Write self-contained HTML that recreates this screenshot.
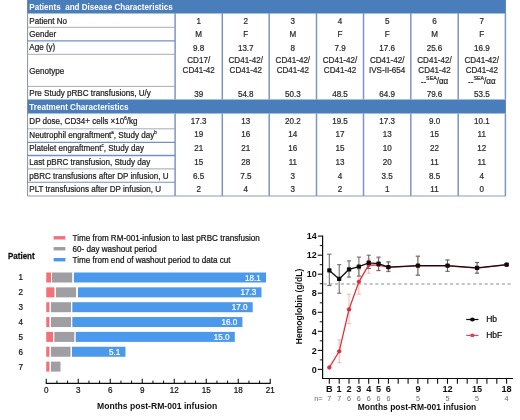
<!DOCTYPE html>
<html><head><meta charset="utf-8"><title>RM-001</title>
<style>
html,body{margin:0;padding:0;background:#fff;}
body{width:520px;height:420px;overflow:hidden;position:relative;font-family:"Liberation Sans",Arial,sans-serif;}
svg{position:absolute;left:0;top:0;display:block}
text{font-family:"Liberation Sans",Arial,sans-serif}
.b{font-weight:bold}
.m{text-anchor:middle}
.e{text-anchor:end}
</style></head><body>
<svg width="520" height="420" viewBox="0 0 520 420">
<defs><filter id="soft" filterUnits="userSpaceOnUse" x="-20" y="-20" width="560" height="460"><feGaussianBlur stdDeviation="0.35"/></filter></defs>
<g filter="url(#soft)">
<rect x="-20" y="-20" width="560" height="460" fill="#fff"/>

<rect x="27.1" y="-10" width="478.79999999999995" height="23.5" fill="#4a7ebb"/>
<rect x="27.1" y="99.5" width="478.79999999999995" height="14" fill="#4a7ebb"/>
<text transform="translate(29.30 9.60) scale(0.95 1)" font-size="8.5" fill="#fff" class="b">Patients&#160; and Disease Characteristics</text>
<text transform="translate(29.30 109.50) scale(0.95 1)" font-size="8.5" fill="#fff" class="b">Treatment Characteristics</text>
<line x1="27.6" y1="13" x2="27.6" y2="196" stroke="#8a8f99" stroke-width="1"/>
<line x1="175.1" y1="13" x2="175.1" y2="99.5" stroke="#7d95c0" stroke-width="1.5"/>
<line x1="175.1" y1="113.5" x2="175.1" y2="196" stroke="#7d95c0" stroke-width="1.5"/>
<line x1="222.3" y1="13" x2="222.3" y2="99.5" stroke="#7d95c0" stroke-width="1.5"/>
<line x1="222.3" y1="113.5" x2="222.3" y2="196" stroke="#7d95c0" stroke-width="1.5"/>
<line x1="269.2" y1="13" x2="269.2" y2="99.5" stroke="#7d95c0" stroke-width="1.5"/>
<line x1="269.2" y1="113.5" x2="269.2" y2="196" stroke="#7d95c0" stroke-width="1.5"/>
<line x1="316.5" y1="13" x2="316.5" y2="99.5" stroke="#7d95c0" stroke-width="1.5"/>
<line x1="316.5" y1="113.5" x2="316.5" y2="196" stroke="#7d95c0" stroke-width="1.5"/>
<line x1="363.5" y1="13" x2="363.5" y2="99.5" stroke="#7d95c0" stroke-width="1.5"/>
<line x1="363.5" y1="113.5" x2="363.5" y2="196" stroke="#7d95c0" stroke-width="1.5"/>
<line x1="410.8" y1="13" x2="410.8" y2="99.5" stroke="#7d95c0" stroke-width="1.5"/>
<line x1="410.8" y1="113.5" x2="410.8" y2="196" stroke="#7d95c0" stroke-width="1.5"/>
<line x1="458.2" y1="13" x2="458.2" y2="99.5" stroke="#7d95c0" stroke-width="1.5"/>
<line x1="458.2" y1="113.5" x2="458.2" y2="196" stroke="#7d95c0" stroke-width="1.5"/>
<line x1="505.4" y1="13" x2="505.4" y2="99.5" stroke="#7d95c0" stroke-width="1.5"/>
<line x1="505.4" y1="113.5" x2="505.4" y2="196" stroke="#7d95c0" stroke-width="1.5"/>
<line x1="27.6" y1="27.3" x2="175.1" y2="27.3" stroke="#9aa3b2" stroke-width="0.9"/>
<line x1="27.6" y1="40.9" x2="175.1" y2="40.9" stroke="#7092c2" stroke-width="1.4"/>
<line x1="27.6" y1="54.3" x2="175.1" y2="54.3" stroke="#9aa3b2" stroke-width="0.9"/>
<line x1="27.6" y1="86.4" x2="175.1" y2="86.4" stroke="#9aa3b2" stroke-width="0.9"/>
<line x1="27.6" y1="128.8" x2="175.1" y2="128.8" stroke="#9aa3b2" stroke-width="0.9"/>
<line x1="27.6" y1="142.3" x2="175.1" y2="142.3" stroke="#7092c2" stroke-width="1.2"/>
<line x1="27.6" y1="155.5" x2="175.1" y2="155.5" stroke="#7092c2" stroke-width="1.3"/>
<line x1="27.6" y1="168.9" x2="175.1" y2="168.9" stroke="#9aa3b2" stroke-width="1"/>
<line x1="27.6" y1="182.2" x2="175.1" y2="182.2" stroke="#7092c2" stroke-width="1.1"/>
<line x1="27.6" y1="196" x2="505.9" y2="196" stroke="#8f9db3" stroke-width="1.1"/>
<text transform="translate(29.30 23.80) scale(0.95 1)" font-size="8.5" fill="#1c1c1c" stroke="#1c1c1c" stroke-width="0.22">Patient No</text>
<text transform="translate(198.70 23.80) scale(0.95 1)" font-size="8.5" fill="#2a2a2a" class="m" stroke="#2a2a2a" stroke-width="0.22">1</text>
<text transform="translate(245.75 23.80) scale(0.95 1)" font-size="8.5" fill="#2a2a2a" class="m" stroke="#2a2a2a" stroke-width="0.22">2</text>
<text transform="translate(292.85 23.80) scale(0.95 1)" font-size="8.5" fill="#2a2a2a" class="m" stroke="#2a2a2a" stroke-width="0.22">3</text>
<text transform="translate(340.00 23.80) scale(0.95 1)" font-size="8.5" fill="#2a2a2a" class="m" stroke="#2a2a2a" stroke-width="0.22">4</text>
<text transform="translate(387.15 23.80) scale(0.95 1)" font-size="8.5" fill="#2a2a2a" class="m" stroke="#2a2a2a" stroke-width="0.22">5</text>
<text transform="translate(434.50 23.80) scale(0.95 1)" font-size="8.5" fill="#2a2a2a" class="m" stroke="#2a2a2a" stroke-width="0.22">6</text>
<text transform="translate(481.80 23.80) scale(0.95 1)" font-size="8.5" fill="#2a2a2a" class="m" stroke="#2a2a2a" stroke-width="0.22">7</text>
<text transform="translate(29.30 37.00) scale(0.95 1)" font-size="8.5" fill="#1c1c1c" stroke="#1c1c1c" stroke-width="0.22">Gender</text>
<text transform="translate(198.70 37.00) scale(0.95 1)" font-size="8.5" fill="#2a2a2a" class="m" stroke="#2a2a2a" stroke-width="0.22">M</text>
<text transform="translate(245.75 37.00) scale(0.95 1)" font-size="8.5" fill="#2a2a2a" class="m" stroke="#2a2a2a" stroke-width="0.22">F</text>
<text transform="translate(292.85 37.00) scale(0.95 1)" font-size="8.5" fill="#2a2a2a" class="m" stroke="#2a2a2a" stroke-width="0.22">M</text>
<text transform="translate(340.00 37.00) scale(0.95 1)" font-size="8.5" fill="#2a2a2a" class="m" stroke="#2a2a2a" stroke-width="0.22">F</text>
<text transform="translate(387.15 37.00) scale(0.95 1)" font-size="8.5" fill="#2a2a2a" class="m" stroke="#2a2a2a" stroke-width="0.22">F</text>
<text transform="translate(434.50 37.00) scale(0.95 1)" font-size="8.5" fill="#2a2a2a" class="m" stroke="#2a2a2a" stroke-width="0.22">M</text>
<text transform="translate(481.80 37.00) scale(0.95 1)" font-size="8.5" fill="#2a2a2a" class="m" stroke="#2a2a2a" stroke-width="0.22">F</text>
<text transform="translate(29.30 50.40) scale(0.95 1)" font-size="8.5" fill="#1c1c1c" stroke="#1c1c1c" stroke-width="0.22">Age (y)</text>
<text transform="translate(198.70 50.50) scale(0.95 1)" font-size="8.5" fill="#2a2a2a" class="m" stroke="#2a2a2a" stroke-width="0.22">9.8</text>
<text transform="translate(245.75 50.50) scale(0.95 1)" font-size="8.5" fill="#2a2a2a" class="m" stroke="#2a2a2a" stroke-width="0.22">13.7</text>
<text transform="translate(292.85 50.50) scale(0.95 1)" font-size="8.5" fill="#2a2a2a" class="m" stroke="#2a2a2a" stroke-width="0.22">8</text>
<text transform="translate(340.00 50.50) scale(0.95 1)" font-size="8.5" fill="#2a2a2a" class="m" stroke="#2a2a2a" stroke-width="0.22">7.9</text>
<text transform="translate(387.15 50.50) scale(0.95 1)" font-size="8.5" fill="#2a2a2a" class="m" stroke="#2a2a2a" stroke-width="0.22">17.6</text>
<text transform="translate(434.50 50.50) scale(0.95 1)" font-size="8.5" fill="#2a2a2a" class="m" stroke="#2a2a2a" stroke-width="0.22">25.6</text>
<text transform="translate(481.80 50.50) scale(0.95 1)" font-size="8.5" fill="#2a2a2a" class="m" stroke="#2a2a2a" stroke-width="0.22">16.9</text>
<text transform="translate(29.30 96.40) scale(0.95 1)" font-size="8.5" fill="#1c1c1c" stroke="#1c1c1c" stroke-width="0.22">Pre Study pRBC transfusions, U/y</text>
<text transform="translate(198.70 96.50) scale(0.95 1)" font-size="8.5" fill="#2a2a2a" class="m" stroke="#2a2a2a" stroke-width="0.22">39</text>
<text transform="translate(245.75 96.50) scale(0.95 1)" font-size="8.5" fill="#2a2a2a" class="m" stroke="#2a2a2a" stroke-width="0.22">54.8</text>
<text transform="translate(292.85 96.50) scale(0.95 1)" font-size="8.5" fill="#2a2a2a" class="m" stroke="#2a2a2a" stroke-width="0.22">50.3</text>
<text transform="translate(340.00 96.50) scale(0.95 1)" font-size="8.5" fill="#2a2a2a" class="m" stroke="#2a2a2a" stroke-width="0.22">48.5</text>
<text transform="translate(387.15 96.50) scale(0.95 1)" font-size="8.5" fill="#2a2a2a" class="m" stroke="#2a2a2a" stroke-width="0.22">64.9</text>
<text transform="translate(434.50 96.50) scale(0.95 1)" font-size="8.5" fill="#2a2a2a" class="m" stroke="#2a2a2a" stroke-width="0.22">79.6</text>
<text transform="translate(481.80 96.50) scale(0.95 1)" font-size="8.5" fill="#2a2a2a" class="m" stroke="#2a2a2a" stroke-width="0.22">53.5</text>
<text transform="translate(29.30 123.80) scale(0.95 1)" font-size="8.5" fill="#1c1c1c" stroke="#1c1c1c" stroke-width="0.22">DP dose, CD34+ cells ×10<tspan dy="-4.2" font-size="4.7">6</tspan><tspan dy="4.2">/kg</tspan></text>
<text transform="translate(198.70 124.10) scale(0.95 1)" font-size="8.5" fill="#2a2a2a" class="m" stroke="#2a2a2a" stroke-width="0.22">17.3</text>
<text transform="translate(245.75 124.10) scale(0.95 1)" font-size="8.5" fill="#2a2a2a" class="m" stroke="#2a2a2a" stroke-width="0.22">13</text>
<text transform="translate(292.85 124.10) scale(0.95 1)" font-size="8.5" fill="#2a2a2a" class="m" stroke="#2a2a2a" stroke-width="0.22">20.2</text>
<text transform="translate(340.00 124.10) scale(0.95 1)" font-size="8.5" fill="#2a2a2a" class="m" stroke="#2a2a2a" stroke-width="0.22">19.5</text>
<text transform="translate(387.15 124.10) scale(0.95 1)" font-size="8.5" fill="#2a2a2a" class="m" stroke="#2a2a2a" stroke-width="0.22">17.3</text>
<text transform="translate(434.50 124.10) scale(0.95 1)" font-size="8.5" fill="#2a2a2a" class="m" stroke="#2a2a2a" stroke-width="0.22">9.0</text>
<text transform="translate(481.80 124.10) scale(0.95 1)" font-size="8.5" fill="#2a2a2a" class="m" stroke="#2a2a2a" stroke-width="0.22">10.1</text>
<text transform="translate(29.30 138.20) scale(0.95 1)" font-size="8.5" fill="#1c1c1c" stroke="#1c1c1c" stroke-width="0.22">Neutrophil engraftment<tspan dy="-4.2" font-size="4.7">a</tspan><tspan dy="4.2">, Study day</tspan><tspan dy="-4.2" font-size="4.7">b</tspan></text>
<text transform="translate(198.70 137.40) scale(0.95 1)" font-size="8.5" fill="#2a2a2a" class="m" stroke="#2a2a2a" stroke-width="0.22">19</text>
<text transform="translate(245.75 137.40) scale(0.95 1)" font-size="8.5" fill="#2a2a2a" class="m" stroke="#2a2a2a" stroke-width="0.22">16</text>
<text transform="translate(292.85 137.40) scale(0.95 1)" font-size="8.5" fill="#2a2a2a" class="m" stroke="#2a2a2a" stroke-width="0.22">14</text>
<text transform="translate(340.00 137.40) scale(0.95 1)" font-size="8.5" fill="#2a2a2a" class="m" stroke="#2a2a2a" stroke-width="0.22">17</text>
<text transform="translate(387.15 137.40) scale(0.95 1)" font-size="8.5" fill="#2a2a2a" class="m" stroke="#2a2a2a" stroke-width="0.22">13</text>
<text transform="translate(434.50 137.40) scale(0.95 1)" font-size="8.5" fill="#2a2a2a" class="m" stroke="#2a2a2a" stroke-width="0.22">15</text>
<text transform="translate(481.80 137.40) scale(0.95 1)" font-size="8.5" fill="#2a2a2a" class="m" stroke="#2a2a2a" stroke-width="0.22">11</text>
<text transform="translate(29.30 151.20) scale(0.95 1)" font-size="8.5" fill="#1c1c1c" stroke="#1c1c1c" stroke-width="0.22">Platelet engraftment<tspan dy="-4.2" font-size="4.7">c</tspan><tspan dy="4.2">, Study day</tspan></text>
<text transform="translate(198.70 151.00) scale(0.95 1)" font-size="8.5" fill="#2a2a2a" class="m" stroke="#2a2a2a" stroke-width="0.22">21</text>
<text transform="translate(245.75 151.00) scale(0.95 1)" font-size="8.5" fill="#2a2a2a" class="m" stroke="#2a2a2a" stroke-width="0.22">21</text>
<text transform="translate(292.85 151.00) scale(0.95 1)" font-size="8.5" fill="#2a2a2a" class="m" stroke="#2a2a2a" stroke-width="0.22">16</text>
<text transform="translate(340.00 151.00) scale(0.95 1)" font-size="8.5" fill="#2a2a2a" class="m" stroke="#2a2a2a" stroke-width="0.22">15</text>
<text transform="translate(387.15 151.00) scale(0.95 1)" font-size="8.5" fill="#2a2a2a" class="m" stroke="#2a2a2a" stroke-width="0.22">10</text>
<text transform="translate(434.50 151.00) scale(0.95 1)" font-size="8.5" fill="#2a2a2a" class="m" stroke="#2a2a2a" stroke-width="0.22">22</text>
<text transform="translate(481.80 151.00) scale(0.95 1)" font-size="8.5" fill="#2a2a2a" class="m" stroke="#2a2a2a" stroke-width="0.22">12</text>
<text transform="translate(29.30 164.90) scale(0.95 1)" font-size="8.5" fill="#1c1c1c" stroke="#1c1c1c" stroke-width="0.22">Last pBRC transfusion, Study day</text>
<text transform="translate(198.70 164.80) scale(0.95 1)" font-size="8.5" fill="#2a2a2a" class="m" stroke="#2a2a2a" stroke-width="0.22">15</text>
<text transform="translate(245.75 164.80) scale(0.95 1)" font-size="8.5" fill="#2a2a2a" class="m" stroke="#2a2a2a" stroke-width="0.22">28</text>
<text transform="translate(292.85 164.80) scale(0.95 1)" font-size="8.5" fill="#2a2a2a" class="m" stroke="#2a2a2a" stroke-width="0.22">11</text>
<text transform="translate(340.00 164.80) scale(0.95 1)" font-size="8.5" fill="#2a2a2a" class="m" stroke="#2a2a2a" stroke-width="0.22">13</text>
<text transform="translate(387.15 164.80) scale(0.95 1)" font-size="8.5" fill="#2a2a2a" class="m" stroke="#2a2a2a" stroke-width="0.22">20</text>
<text transform="translate(434.50 164.80) scale(0.95 1)" font-size="8.5" fill="#2a2a2a" class="m" stroke="#2a2a2a" stroke-width="0.22">11</text>
<text transform="translate(481.80 164.80) scale(0.95 1)" font-size="8.5" fill="#2a2a2a" class="m" stroke="#2a2a2a" stroke-width="0.22">11</text>
<text transform="translate(29.30 178.60) scale(0.95 1)" font-size="8.5" fill="#1c1c1c" stroke="#1c1c1c" stroke-width="0.22">pBRC transfusions after DP infusion, U</text>
<text transform="translate(198.70 178.60) scale(0.95 1)" font-size="8.5" fill="#2a2a2a" class="m" stroke="#2a2a2a" stroke-width="0.22">6.5</text>
<text transform="translate(245.75 178.60) scale(0.95 1)" font-size="8.5" fill="#2a2a2a" class="m" stroke="#2a2a2a" stroke-width="0.22">7.5</text>
<text transform="translate(292.85 178.60) scale(0.95 1)" font-size="8.5" fill="#2a2a2a" class="m" stroke="#2a2a2a" stroke-width="0.22">3</text>
<text transform="translate(340.00 178.60) scale(0.95 1)" font-size="8.5" fill="#2a2a2a" class="m" stroke="#2a2a2a" stroke-width="0.22">4</text>
<text transform="translate(387.15 178.60) scale(0.95 1)" font-size="8.5" fill="#2a2a2a" class="m" stroke="#2a2a2a" stroke-width="0.22">3.5</text>
<text transform="translate(434.50 178.60) scale(0.95 1)" font-size="8.5" fill="#2a2a2a" class="m" stroke="#2a2a2a" stroke-width="0.22">8.5</text>
<text transform="translate(481.80 178.60) scale(0.95 1)" font-size="8.5" fill="#2a2a2a" class="m" stroke="#2a2a2a" stroke-width="0.22">4</text>
<text transform="translate(29.30 192.30) scale(0.95 1)" font-size="8.5" fill="#1c1c1c" stroke="#1c1c1c" stroke-width="0.22">PLT transfusions after DP infusion, U</text>
<text transform="translate(198.70 192.20) scale(0.95 1)" font-size="8.5" fill="#2a2a2a" class="m" stroke="#2a2a2a" stroke-width="0.22">2</text>
<text transform="translate(245.75 192.20) scale(0.95 1)" font-size="8.5" fill="#2a2a2a" class="m" stroke="#2a2a2a" stroke-width="0.22">4</text>
<text transform="translate(292.85 192.20) scale(0.95 1)" font-size="8.5" fill="#2a2a2a" class="m" stroke="#2a2a2a" stroke-width="0.22">3</text>
<text transform="translate(340.00 192.20) scale(0.95 1)" font-size="8.5" fill="#2a2a2a" class="m" stroke="#2a2a2a" stroke-width="0.22">2</text>
<text transform="translate(387.15 192.20) scale(0.95 1)" font-size="8.5" fill="#2a2a2a" class="m" stroke="#2a2a2a" stroke-width="0.22">1</text>
<text transform="translate(434.50 192.20) scale(0.95 1)" font-size="8.5" fill="#2a2a2a" class="m" stroke="#2a2a2a" stroke-width="0.22">11</text>
<text transform="translate(481.80 192.20) scale(0.95 1)" font-size="8.5" fill="#2a2a2a" class="m" stroke="#2a2a2a" stroke-width="0.22">0</text>
<text transform="translate(29.30 74.10) scale(0.95 1)" font-size="8.5" fill="#1c1c1c" stroke="#1c1c1c" stroke-width="0.22">Genotype</text>
<text transform="translate(198.70 63.20) scale(0.95 1)" font-size="8.5" fill="#2a2a2a" class="m" stroke="#2a2a2a" stroke-width="0.22">CD17/</text>
<text transform="translate(198.70 72.80) scale(0.95 1)" font-size="8.5" fill="#2a2a2a" class="m" stroke="#2a2a2a" stroke-width="0.22">CD41-42</text>
<text transform="translate(245.75 63.20) scale(0.95 1)" font-size="8.5" fill="#2a2a2a" class="m" stroke="#2a2a2a" stroke-width="0.22">CD41-42/</text>
<text transform="translate(245.75 72.80) scale(0.95 1)" font-size="8.5" fill="#2a2a2a" class="m" stroke="#2a2a2a" stroke-width="0.22">CD41-42</text>
<text transform="translate(292.85 63.20) scale(0.95 1)" font-size="8.5" fill="#2a2a2a" class="m" stroke="#2a2a2a" stroke-width="0.22">CD41-42/</text>
<text transform="translate(292.85 72.80) scale(0.95 1)" font-size="8.5" fill="#2a2a2a" class="m" stroke="#2a2a2a" stroke-width="0.22">CD41-42</text>
<text transform="translate(340.00 63.20) scale(0.95 1)" font-size="8.5" fill="#2a2a2a" class="m" stroke="#2a2a2a" stroke-width="0.22">CD41-42/</text>
<text transform="translate(340.00 72.80) scale(0.95 1)" font-size="8.5" fill="#2a2a2a" class="m" stroke="#2a2a2a" stroke-width="0.22">CD41-42</text>
<text transform="translate(387.15 63.20) scale(0.95 1)" font-size="8.5" fill="#2a2a2a" class="m" stroke="#2a2a2a" stroke-width="0.22">CD41-42/</text>
<text transform="translate(387.15 72.80) scale(0.95 1)" font-size="8.5" fill="#2a2a2a" class="m" stroke="#2a2a2a" stroke-width="0.22">IVS-II-654</text>
<text transform="translate(434.50 63.20) scale(0.95 1)" font-size="8.5" fill="#2a2a2a" class="m" stroke="#2a2a2a" stroke-width="0.22">CD41-42/</text>
<text transform="translate(434.50 72.80) scale(0.95 1)" font-size="8.5" fill="#2a2a2a" class="m" stroke="#2a2a2a" stroke-width="0.22">CD41-42</text>
<text transform="translate(434.50 83.90) scale(0.95 1)" font-size="8.5" fill="#2a2a2a" class="m" stroke="#2a2a2a" stroke-width="0.22"><tspan dy="1.4">--</tspan><tspan dy="-5.4" font-size="5.6">SEA</tspan><tspan dy="4">/αα</tspan></text>
<text transform="translate(481.80 63.20) scale(0.95 1)" font-size="8.5" fill="#2a2a2a" class="m" stroke="#2a2a2a" stroke-width="0.22">CD41-42/</text>
<text transform="translate(481.80 72.80) scale(0.95 1)" font-size="8.5" fill="#2a2a2a" class="m" stroke="#2a2a2a" stroke-width="0.22">CD41-42</text>
<text transform="translate(481.80 83.90) scale(0.95 1)" font-size="8.5" fill="#2a2a2a" class="m" stroke="#2a2a2a" stroke-width="0.22"><tspan dy="1.4">--</tspan><tspan dy="-5.4" font-size="5.6">SEA</tspan><tspan dy="4">/αα</tspan></text>
<rect x="46.25" y="272.50" width="4.8" height="10" fill="#f47078"/>
<rect x="52.0" y="272.50" width="20.2" height="10" fill="#9f9fa3"/>
<rect x="73.9" y="272.50" width="192.1" height="10" fill="#4b99ec"/>
<text transform="translate(260.80 280.60) scale(0.89 1)" font-size="9.1" fill="#fff" class="e" stroke="#fff" stroke-width="0.22">18.1</text>
<text transform="translate(20.80 280.40) scale(0.89 1)" font-size="9.1" fill="#111" class="m" stroke="#111" stroke-width="0.22">1</text>
<rect x="46.25" y="287.35" width="8.2" height="10" fill="#f47078"/>
<rect x="56.0" y="287.35" width="20.1" height="10" fill="#9f9fa3"/>
<rect x="78.0" y="287.35" width="183.5" height="10" fill="#4b99ec"/>
<text transform="translate(256.30 295.45) scale(0.89 1)" font-size="9.1" fill="#fff" class="e" stroke="#fff" stroke-width="0.22">17.3</text>
<text transform="translate(20.80 295.25) scale(0.89 1)" font-size="9.1" fill="#111" class="m" stroke="#111" stroke-width="0.22">2</text>
<rect x="46.25" y="302.20" width="3.2" height="10" fill="#f47078"/>
<rect x="51.0" y="302.20" width="20.0" height="10" fill="#9f9fa3"/>
<rect x="72.3" y="302.20" width="180.4" height="10" fill="#4b99ec"/>
<text transform="translate(247.50 310.30) scale(0.89 1)" font-size="9.1" fill="#fff" class="e" stroke="#fff" stroke-width="0.22">17.0</text>
<text transform="translate(20.80 310.10) scale(0.89 1)" font-size="9.1" fill="#111" class="m" stroke="#111" stroke-width="0.22">3</text>
<rect x="46.25" y="317.05" width="3.2" height="10" fill="#f47078"/>
<rect x="51.0" y="317.05" width="20.0" height="10" fill="#9f9fa3"/>
<rect x="72.3" y="317.05" width="170.1" height="10" fill="#4b99ec"/>
<text transform="translate(237.20 325.15) scale(0.89 1)" font-size="9.1" fill="#fff" class="e" stroke="#fff" stroke-width="0.22">16.0</text>
<text transform="translate(20.80 324.95) scale(0.89 1)" font-size="9.1" fill="#111" class="m" stroke="#111" stroke-width="0.22">4</text>
<rect x="46.25" y="331.90" width="6.8" height="10" fill="#f47078"/>
<rect x="54.3" y="331.90" width="20.0" height="10" fill="#9f9fa3"/>
<rect x="75.7" y="331.90" width="159.1" height="10" fill="#4b99ec"/>
<text transform="translate(229.60 340.00) scale(0.89 1)" font-size="9.1" fill="#fff" class="e" stroke="#fff" stroke-width="0.22">15.0</text>
<text transform="translate(20.80 339.80) scale(0.89 1)" font-size="9.1" fill="#111" class="m" stroke="#111" stroke-width="0.22">5</text>
<rect x="46.25" y="346.75" width="3.2" height="10" fill="#f47078"/>
<rect x="51.0" y="346.75" width="19.5" height="10" fill="#9f9fa3"/>
<rect x="72.0" y="346.75" width="53.5" height="10" fill="#4b99ec"/>
<text transform="translate(120.30 354.85) scale(0.89 1)" font-size="9.1" fill="#fff" class="e" stroke="#fff" stroke-width="0.22">5.1</text>
<text transform="translate(20.80 354.65) scale(0.89 1)" font-size="9.1" fill="#111" class="m" stroke="#111" stroke-width="0.22">6</text>
<rect x="46.25" y="361.60" width="3.2" height="10" fill="#f47078"/>
<rect x="51.0" y="361.60" width="9.5" height="10" fill="#9f9fa3"/>
<text transform="translate(20.80 369.50) scale(0.89 1)" font-size="9.1" fill="#111" class="m" stroke="#111" stroke-width="0.22">7</text>
<line x1="45.75" y1="383.3" x2="270.75" y2="383.3" stroke="#111" stroke-width="1.2"/>
<line x1="46.25" y1="378.7" x2="46.25" y2="383.3" stroke="#111" stroke-width="1.1"/>
<text transform="translate(46.25 393.30) scale(0.89 1)" font-size="9.1" fill="#111" class="m" stroke="#111" stroke-width="0.22">0</text>
<line x1="56.92" y1="380.6" x2="56.92" y2="383.3" stroke="#111" stroke-width="1"/>
<line x1="67.58" y1="380.6" x2="67.58" y2="383.3" stroke="#111" stroke-width="1"/>
<line x1="78.25" y1="378.7" x2="78.25" y2="383.3" stroke="#111" stroke-width="1.1"/>
<text transform="translate(78.25 393.30) scale(0.89 1)" font-size="9.1" fill="#111" class="m" stroke="#111" stroke-width="0.22">3</text>
<line x1="88.92" y1="380.6" x2="88.92" y2="383.3" stroke="#111" stroke-width="1"/>
<line x1="99.58" y1="380.6" x2="99.58" y2="383.3" stroke="#111" stroke-width="1"/>
<line x1="110.25" y1="378.7" x2="110.25" y2="383.3" stroke="#111" stroke-width="1.1"/>
<text transform="translate(110.25 393.30) scale(0.89 1)" font-size="9.1" fill="#111" class="m" stroke="#111" stroke-width="0.22">6</text>
<line x1="120.92" y1="380.6" x2="120.92" y2="383.3" stroke="#111" stroke-width="1"/>
<line x1="131.58" y1="380.6" x2="131.58" y2="383.3" stroke="#111" stroke-width="1"/>
<line x1="142.25" y1="378.7" x2="142.25" y2="383.3" stroke="#111" stroke-width="1.1"/>
<text transform="translate(142.25 393.30) scale(0.89 1)" font-size="9.1" fill="#111" class="m" stroke="#111" stroke-width="0.22">9</text>
<line x1="152.92" y1="380.6" x2="152.92" y2="383.3" stroke="#111" stroke-width="1"/>
<line x1="163.58" y1="380.6" x2="163.58" y2="383.3" stroke="#111" stroke-width="1"/>
<line x1="174.25" y1="378.7" x2="174.25" y2="383.3" stroke="#111" stroke-width="1.1"/>
<text transform="translate(174.25 393.30) scale(0.89 1)" font-size="9.1" fill="#111" class="m" stroke="#111" stroke-width="0.22">12</text>
<line x1="184.92" y1="380.6" x2="184.92" y2="383.3" stroke="#111" stroke-width="1"/>
<line x1="195.58" y1="380.6" x2="195.58" y2="383.3" stroke="#111" stroke-width="1"/>
<line x1="206.25" y1="378.7" x2="206.25" y2="383.3" stroke="#111" stroke-width="1.1"/>
<text transform="translate(206.25 393.30) scale(0.89 1)" font-size="9.1" fill="#111" class="m" stroke="#111" stroke-width="0.22">15</text>
<line x1="216.92" y1="380.6" x2="216.92" y2="383.3" stroke="#111" stroke-width="1"/>
<line x1="227.58" y1="380.6" x2="227.58" y2="383.3" stroke="#111" stroke-width="1"/>
<line x1="238.25" y1="378.7" x2="238.25" y2="383.3" stroke="#111" stroke-width="1.1"/>
<text transform="translate(238.25 393.30) scale(0.89 1)" font-size="9.1" fill="#111" class="m" stroke="#111" stroke-width="0.22">18</text>
<line x1="248.92" y1="380.6" x2="248.92" y2="383.3" stroke="#111" stroke-width="1"/>
<line x1="259.58" y1="380.6" x2="259.58" y2="383.3" stroke="#111" stroke-width="1"/>
<line x1="270.25" y1="378.7" x2="270.25" y2="383.3" stroke="#111" stroke-width="1.1"/>
<text transform="translate(270.25 393.30) scale(0.89 1)" font-size="9.1" fill="#111" class="m" stroke="#111" stroke-width="0.22">21</text>
<text x="97.00" y="409.30" font-size="8.6" fill="#111" class="b">Months post-RM-001 infusion</text>
<text transform="translate(8.00 258.90) scale(0.89 1)" font-size="9" fill="#111" class="b" stroke="#111" stroke-width="0.25">Patient</text>
<rect x="53.6" y="236.10" width="11.8" height="3.4" fill="#f47078"/>
<text transform="translate(72.50 240.85) scale(0.89 1)" font-size="9.1" fill="#111" stroke="#111" stroke-width="0.22">Time from RM-001-infusion to last pRBC transfusion</text>
<rect x="53.6" y="247.05" width="11.8" height="3.4" fill="#9f9fa3"/>
<text transform="translate(72.50 251.80) scale(0.89 1)" font-size="9.1" fill="#111" stroke="#111" stroke-width="0.22">60- day washout period</text>
<rect x="53.6" y="258.00" width="11.8" height="3.4" fill="#4b99ec"/>
<text transform="translate(72.50 262.75) scale(0.89 1)" font-size="9.1" fill="#111" stroke="#111" stroke-width="0.22">Time from end of washout period to data cut</text>
<line x1="322.6" y1="235.6" x2="322.6" y2="379.1" stroke="#111" stroke-width="1.2"/>
<line x1="322.0" y1="378.5" x2="513" y2="378.5" stroke="#111" stroke-width="1.2"/>
<line x1="317.8" y1="369.4" x2="322.6" y2="369.4" stroke="#111" stroke-width="1.1"/>
<text x="316.70" y="372.60" font-size="9" fill="#111" class="b e">0</text>
<line x1="317.8" y1="350.4" x2="322.6" y2="350.4" stroke="#111" stroke-width="1.1"/>
<text x="316.70" y="353.56" font-size="9" fill="#111" class="b e">2</text>
<line x1="317.8" y1="331.3" x2="322.6" y2="331.3" stroke="#111" stroke-width="1.1"/>
<text x="316.70" y="334.52" font-size="9" fill="#111" class="b e">4</text>
<line x1="317.8" y1="312.3" x2="322.6" y2="312.3" stroke="#111" stroke-width="1.1"/>
<text x="316.70" y="315.48" font-size="9" fill="#111" class="b e">6</text>
<line x1="317.8" y1="293.2" x2="322.6" y2="293.2" stroke="#111" stroke-width="1.1"/>
<text x="316.70" y="296.44" font-size="9" fill="#111" class="b e">8</text>
<line x1="317.8" y1="274.2" x2="322.6" y2="274.2" stroke="#111" stroke-width="1.1"/>
<text x="316.70" y="277.40" font-size="9" fill="#111" class="b e">10</text>
<line x1="317.8" y1="255.2" x2="322.6" y2="255.2" stroke="#111" stroke-width="1.1"/>
<text x="316.70" y="258.36" font-size="9" fill="#111" class="b e">12</text>
<line x1="317.8" y1="236.1" x2="322.6" y2="236.1" stroke="#111" stroke-width="1.1"/>
<text x="316.70" y="239.32" font-size="9" fill="#111" class="b e">14</text>
<line x1="319.8" y1="359.9" x2="322.6" y2="359.9" stroke="#111" stroke-width="1"/>
<line x1="319.8" y1="340.8" x2="322.6" y2="340.8" stroke="#111" stroke-width="1"/>
<line x1="319.8" y1="321.8" x2="322.6" y2="321.8" stroke="#111" stroke-width="1"/>
<line x1="319.8" y1="302.8" x2="322.6" y2="302.8" stroke="#111" stroke-width="1"/>
<line x1="319.8" y1="283.7" x2="322.6" y2="283.7" stroke="#111" stroke-width="1"/>
<line x1="319.8" y1="264.7" x2="322.6" y2="264.7" stroke="#111" stroke-width="1"/>
<line x1="319.8" y1="245.6" x2="322.6" y2="245.6" stroke="#111" stroke-width="1"/>
<line x1="329.3" y1="378.5" x2="329.3" y2="383.8" stroke="#111" stroke-width="1.1"/>
<text x="329.30" y="392.40" font-size="9.2" fill="#111" class="b m">B</text>
<text x="329.30" y="400.60" font-size="7.2" fill="#6a6a6a" class="m">7</text>
<line x1="339.2" y1="378.5" x2="339.2" y2="383.8" stroke="#111" stroke-width="1.1"/>
<text x="339.15" y="392.40" font-size="9.2" fill="#111" class="b m">1</text>
<text x="339.15" y="400.60" font-size="7.2" fill="#6a6a6a" class="m">7</text>
<line x1="349.0" y1="378.5" x2="349.0" y2="383.8" stroke="#111" stroke-width="1.1"/>
<text x="349.00" y="392.40" font-size="9.2" fill="#111" class="b m">2</text>
<text x="349.00" y="400.60" font-size="7.2" fill="#6a6a6a" class="m">6</text>
<line x1="358.9" y1="378.5" x2="358.9" y2="383.8" stroke="#111" stroke-width="1.1"/>
<text x="358.85" y="392.40" font-size="9.2" fill="#111" class="b m">3</text>
<text x="358.85" y="400.60" font-size="7.2" fill="#6a6a6a" class="m">6</text>
<line x1="368.7" y1="378.5" x2="368.7" y2="383.8" stroke="#111" stroke-width="1.1"/>
<text x="368.70" y="392.40" font-size="9.2" fill="#111" class="b m">4</text>
<text x="368.70" y="400.60" font-size="7.2" fill="#6a6a6a" class="m">6</text>
<line x1="378.6" y1="378.5" x2="378.6" y2="383.8" stroke="#111" stroke-width="1.1"/>
<text x="378.55" y="392.40" font-size="9.2" fill="#111" class="b m">5</text>
<text x="378.55" y="400.60" font-size="7.2" fill="#6a6a6a" class="m">6</text>
<line x1="388.4" y1="378.5" x2="388.4" y2="383.8" stroke="#111" stroke-width="1.1"/>
<text x="388.40" y="392.40" font-size="9.2" fill="#111" class="b m">6</text>
<text x="388.40" y="400.60" font-size="7.2" fill="#6a6a6a" class="m">6</text>
<line x1="398.2" y1="378.5" x2="398.2" y2="383.8" stroke="#111" stroke-width="1.1"/>
<line x1="408.1" y1="378.5" x2="408.1" y2="383.8" stroke="#111" stroke-width="1.1"/>
<line x1="417.9" y1="378.5" x2="417.9" y2="383.8" stroke="#111" stroke-width="1.1"/>
<text x="417.95" y="392.40" font-size="9.2" fill="#111" class="b m">9</text>
<text x="417.95" y="400.60" font-size="7.2" fill="#6a6a6a" class="m">5</text>
<line x1="427.8" y1="378.5" x2="427.8" y2="383.8" stroke="#111" stroke-width="1.1"/>
<line x1="437.6" y1="378.5" x2="437.6" y2="383.8" stroke="#111" stroke-width="1.1"/>
<line x1="447.5" y1="378.5" x2="447.5" y2="383.8" stroke="#111" stroke-width="1.1"/>
<text x="447.50" y="392.40" font-size="9.2" fill="#111" class="b m">12</text>
<text x="447.50" y="400.60" font-size="7.2" fill="#6a6a6a" class="m">5</text>
<line x1="457.4" y1="378.5" x2="457.4" y2="383.8" stroke="#111" stroke-width="1.1"/>
<line x1="467.2" y1="378.5" x2="467.2" y2="383.8" stroke="#111" stroke-width="1.1"/>
<line x1="477.1" y1="378.5" x2="477.1" y2="383.8" stroke="#111" stroke-width="1.1"/>
<text x="477.05" y="392.40" font-size="9.2" fill="#111" class="b m">15</text>
<text x="477.05" y="400.60" font-size="7.2" fill="#6a6a6a" class="m">5</text>
<line x1="486.9" y1="378.5" x2="486.9" y2="383.8" stroke="#111" stroke-width="1.1"/>
<line x1="496.8" y1="378.5" x2="496.8" y2="383.8" stroke="#111" stroke-width="1.1"/>
<line x1="506.6" y1="378.5" x2="506.6" y2="383.8" stroke="#111" stroke-width="1.1"/>
<text x="506.60" y="392.40" font-size="9.2" fill="#111" class="b m">18</text>
<text x="506.60" y="400.60" font-size="7.2" fill="#6a6a6a" class="m">4</text>
<text x="314.20" y="400.60" font-size="7.5" fill="#6a6a6a">n=</text>
<text x="357.70" y="409.70" font-size="8.48" fill="#111" class="b">Months post-RM-001 infusion</text>
<text class="b m" transform="translate(302.3 306.5) rotate(-90)" font-size="8.55" fill="#111">Hemoglobin (g/dL)</text>
<line x1="322.6" y1="284.0" x2="511.5" y2="284.0" stroke="#8a8a8a" stroke-width="1" stroke-dasharray="3.1 2.65" stroke-dashoffset="-1"/>
<path d="M339.2 362.7V339.9M337.1 362.7h4.2M337.1 339.9h4.2" stroke="#f3b5a8" stroke-width="0.95" fill="none"/>
<path d="M349.0 323.7V294.2M346.9 323.7h4.2M346.9 294.2h4.2" stroke="#f3b5a8" stroke-width="0.95" fill="none"/>
<path d="M358.9 294.2V269.4M356.8 294.2h4.2M356.8 269.4h4.2" stroke="#f3b5a8" stroke-width="0.95" fill="none"/>
<path d="M368.7 273.2V259.0M366.6 273.2h4.2M366.6 259.0h4.2" stroke="#f3b5a8" stroke-width="0.95" fill="none"/>
<path d="M378.6 270.9V258.0M376.4 270.9h4.2M376.4 258.0h4.2" stroke="#f3b5a8" stroke-width="0.95" fill="none"/>
<path d="M388.4 271.8V262.8M386.3 271.8h4.2M386.3 262.8h4.2" stroke="#f3b5a8" stroke-width="0.95" fill="none"/>
<path d="M417.9 275.2V256.6M415.8 275.2h4.2M415.8 256.6h4.2" stroke="#f3b5a8" stroke-width="0.95" fill="none"/>
<path d="M447.5 271.3V260.4M445.4 271.3h4.2M445.4 260.4h4.2" stroke="#f3b5a8" stroke-width="0.95" fill="none"/>
<path d="M477.1 273.2V262.8M474.9 273.2h4.2M474.9 262.8h4.2" stroke="#f3b5a8" stroke-width="0.95" fill="none"/>
<path d="M329.3 285.6V254.2M327.2 285.6h4.2M327.2 254.2h4.2" stroke="#5e5a5a" stroke-width="0.95" fill="none"/>
<path d="M339.2 293.2V264.7M337.1 293.2h4.2M337.1 264.7h4.2" stroke="#5e5a5a" stroke-width="0.95" fill="none"/>
<path d="M349.0 277.1V260.9M346.9 277.1h4.2M346.9 260.9h4.2" stroke="#5e5a5a" stroke-width="0.95" fill="none"/>
<path d="M358.9 276.1V257.1M356.8 276.1h4.2M356.8 257.1h4.2" stroke="#5e5a5a" stroke-width="0.95" fill="none"/>
<path d="M368.7 268.5V255.2M366.6 268.5h4.2M366.6 255.2h4.2" stroke="#5e5a5a" stroke-width="0.95" fill="none"/>
<path d="M378.6 270.4V257.1M376.4 270.4h4.2M376.4 257.1h4.2" stroke="#5e5a5a" stroke-width="0.95" fill="none"/>
<path d="M388.4 271.3V261.8M386.3 271.3h4.2M386.3 261.8h4.2" stroke="#5e5a5a" stroke-width="0.95" fill="none"/>
<path d="M417.9 275.2V256.1M415.8 275.2h4.2M415.8 256.1h4.2" stroke="#5e5a5a" stroke-width="0.95" fill="none"/>
<path d="M447.5 271.3V259.9M445.4 271.3h4.2M445.4 259.9h4.2" stroke="#5e5a5a" stroke-width="0.95" fill="none"/>
<path d="M477.1 273.2V262.4M474.9 273.2h4.2M474.9 262.4h4.2" stroke="#5e5a5a" stroke-width="0.95" fill="none"/>
<polyline fill="none" stroke="#e42c3a" stroke-width="1.3" points="329.3,367.5 339.2,351.3 349.0,309.4 358.9,281.8 368.7,264.9 378.6,265.2 388.4,267.3 417.9,265.8 447.5,265.8 477.1,268.1 506.6,264.9"/>
<circle cx="329.3" cy="367.5" r="2.15" fill="#e42c3a"/>
<circle cx="339.2" cy="351.3" r="2.15" fill="#e42c3a"/>
<circle cx="349.0" cy="309.4" r="2.15" fill="#e42c3a"/>
<circle cx="358.9" cy="281.8" r="2.15" fill="#e42c3a"/>
<circle cx="368.7" cy="264.9" r="2.15" fill="#e42c3a"/>
<circle cx="378.6" cy="265.2" r="2.15" fill="#e42c3a"/>
<circle cx="388.4" cy="267.3" r="2.15" fill="#e42c3a"/>
<circle cx="417.9" cy="265.8" r="2.15" fill="#e42c3a"/>
<circle cx="447.5" cy="265.8" r="2.15" fill="#e42c3a"/>
<circle cx="477.1" cy="268.1" r="2.15" fill="#e42c3a"/>
<circle cx="506.6" cy="264.9" r="2.15" fill="#e42c3a"/>
<polyline fill="none" stroke="#111" stroke-width="1.3" points="329.3,270.4 339.2,279.0 349.0,269.4 358.9,266.6 368.7,262.8 378.6,263.7 388.4,267.1 417.9,265.6 447.5,265.6 477.1,267.9 506.6,264.7"/>
<rect x="327.2" y="268.2" width="4.3" height="4.3" rx="0.7" fill="#111"/>
<rect x="337.0" y="276.8" width="4.3" height="4.3" rx="0.7" fill="#111"/>
<rect x="346.9" y="267.3" width="4.3" height="4.3" rx="0.7" fill="#111"/>
<rect x="356.7" y="264.4" width="4.3" height="4.3" rx="0.7" fill="#111"/>
<rect x="366.6" y="260.6" width="4.3" height="4.3" rx="0.7" fill="#111"/>
<rect x="376.4" y="261.6" width="4.3" height="4.3" rx="0.7" fill="#111"/>
<rect x="386.2" y="264.9" width="4.3" height="4.3" rx="0.7" fill="#111"/>
<rect x="415.8" y="263.5" width="4.3" height="4.3" rx="0.7" fill="#111"/>
<rect x="445.4" y="263.5" width="4.3" height="4.3" rx="0.7" fill="#111"/>
<rect x="474.9" y="265.8" width="4.3" height="4.3" rx="0.7" fill="#111"/>
<rect x="504.5" y="262.5" width="4.3" height="4.3" rx="0.7" fill="#111"/>
<line x1="466.2" y1="319.5" x2="478.5" y2="319.5" stroke="#111" stroke-width="1.2"/><ellipse cx="472.4" cy="319.5" rx="2.4" ry="1.9" fill="#111"/>
<text x="486.20" y="322.00" font-size="8.5" fill="#111" stroke="#111" stroke-width="0.22">Hb</text>
<line x1="466.2" y1="335.4" x2="478.5" y2="335.4" stroke="#dc4258" stroke-width="1.1"/><ellipse cx="472.4" cy="335.4" rx="2.2" ry="1.8" fill="#dc4258"/>
<text x="486.20" y="338.00" font-size="8.5" fill="#111" stroke="#111" stroke-width="0.22">HbF</text>
</g></svg></body></html>
